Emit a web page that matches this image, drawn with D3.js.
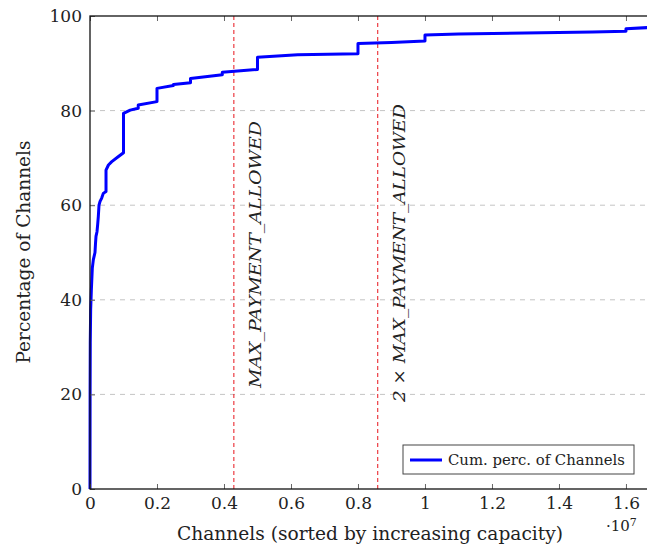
<!DOCTYPE html>
<html lang="en">
<head>
<meta charset="UTF-8">
<title>Cumulative channels</title>
<script src="https://d3js.org/d3.v7.min.js"></script>
<style>
    body { margin: 0; background: #fff; }
    svg text { font-family: "DejaVu Serif", "Liberation Serif", "Times New Roman", serif; fill: #222; }
</style>
</head>
<body>
<script>
    // capacity in sat, cumulative percentage of channels
    const capacity = [0, 3000, 8000, 20000, 40000, 69000, 100000, 149000, 165000, 179000, 209000, 230000,
        248000, 269000, 300000, 349000, 397000, 478000, 478000, 550000, 650000, 850000, 1000000, 1000000,
        1200000, 1440000, 1440000, 2000000, 2000000, 2490000, 2490000, 3000000, 3000000, 3950000, 3950000,
        5000000, 5000000, 6200000, 8000000, 8000000, 9000000, 10000000, 10000000, 11000000, 15000000,
        16000000, 16000000, 16777215];
    const percent = [0, 20, 31, 38, 42, 46.7, 48.5, 50, 52, 53.4, 54.4, 56,
        57.6, 60, 60.8, 61.5, 62.5, 62.9, 67.4, 68.5, 69.2, 70.3, 71.1, 79.4,
        80.1, 80.5, 81.2, 81.9, 84.7, 85.3, 85.5, 85.9, 86.8, 87.6, 88.1,
        88.7, 91.3, 91.8, 92.0, 94.2, 94.4, 94.7, 96.0, 96.2, 96.6,
        96.8, 97.3, 97.6];
    const xTicks = [0, 2e6, 4e6, 6e6, 8e6, 1e7, 1.2e7, 1.4e7, 1.6e7];
    const yTicks = [0, 20, 40, 60, 80, 100];
    const limits = [
        {value: 4294967, label: "MAX_PAYMENT_ALLOWED", len: 267},
        {value: 8589934, label: "2 \u00d7 MAX_PAYMENT_ALLOWED", len: 298}
    ];

    const width = 647, height = 547;
    const m = {left: 90, right: 652, top: 16, bottom: 489};
    const serif = '"DejaVu Serif", "Liberation Serif", serif';

    const x = d3.scaleLinear().domain([0, 16777215]).range([m.left, m.right]);
    const y = d3.scaleLinear().domain([0, 100]).range([m.bottom, m.top]);

    const svg = d3.select("body").append("svg")
        .attr("width", width)
        .attr("height", height);

    // horizontal grid
    svg.append("g").selectAll("line")
        .data(yTicks.filter(d => d > 0 && d < 100))
        .enter().append("line")
        .attr("x1", m.left).attr("x2", m.right)
        .attr("y1", d => y(d)).attr("y2", d => y(d))
        .attr("stroke", "#c4c4c4")
        .attr("stroke-dasharray", "5 5");

    // limit lines
    svg.append("g").selectAll("line")
        .data(limits)
        .enter().append("line")
        .attr("x1", d => x(d.value)).attr("x2", d => x(d.value))
        .attr("y1", m.top).attr("y2", m.bottom)
        .attr("stroke", "#e8141c")
        .attr("stroke-dasharray", "4 3");

    svg.append("g").selectAll("text")
        .data(limits)
        .enter().append("text")
        .attr("transform", (d, i) => `translate(${x(d.value) + 27},${i ? 402 : 388}) rotate(-90)`)
        .attr("font-family", serif)
        .attr("font-style", "italic")
        .attr("font-size", 17)
        .attr("textLength", d => d.len)
        .attr("lengthAdjust", "spacingAndGlyphs")
        .text(d => d.label);

    // curve
    const pts = capacity.map((c, i) => [c, percent[i]]);
    svg.append("path")
        .datum(pts)
        .attr("fill", "none")
        .attr("stroke", "#0000ff")
        .attr("stroke-width", 3)
        .attr("stroke-linejoin", "round")
        .attr("d", d3.line().x(d => x(d[0])).y(d => y(d[1])));

    // axes (ticks inward)
    const xAxis = svg.append("g")
        .attr("transform", `translate(0,${m.bottom})`)
        .call(d3.axisBottom(x).tickValues(xTicks).tickSize(-5).tickPadding(8)
            .tickFormat(d => d === 0 ? "0" : d3.format(".1f")(d / 1e7).replace(/\.0$/, "")));
    xAxis.select(".domain").remove();
    xAxis.selectAll("line").attr("stroke", "#666");
    xAxis.selectAll("text").attr("font-size", 17).attr("font-family", serif).attr("fill", "#222");

    const xTop = svg.append("g")
        .attr("transform", `translate(0,${m.top})`)
        .call(d3.axisTop(x).tickValues(xTicks).tickSize(-5).tickFormat(""));
    xTop.select(".domain").remove();
    xTop.selectAll("line").attr("stroke", "#666");

    const yAxis = svg.append("g")
        .attr("transform", `translate(${m.left},0)`)
        .call(d3.axisLeft(y).tickValues(yTicks).tickSize(-5).tickPadding(8));
    yAxis.select(".domain").remove();
    yAxis.selectAll("line").attr("stroke", "#666");
    yAxis.selectAll("text").attr("font-size", 17).attr("font-family", serif).attr("fill", "#222");

    // frame
    svg.append("rect")
        .attr("x", m.left).attr("y", m.top)
        .attr("width", m.right - m.left).attr("height", m.bottom - m.top)
        .attr("fill", "none")
        .attr("stroke", "#111")
        .attr("stroke-width", 1.3);

    // axis labels
    svg.append("text")
        .attr("x", 370).attr("y", 540)
        .attr("text-anchor", "middle")
        .attr("font-family", serif)
        .attr("font-size", 18)
        .attr("textLength", 386)
        .attr("lengthAdjust", "spacingAndGlyphs")
        .text("Channels (sorted by increasing capacity)");

    svg.append("text")
        .attr("transform", "translate(30,252) rotate(-90)")
        .attr("text-anchor", "middle")
        .attr("font-family", serif)
        .attr("font-size", 18)
        .attr("textLength", 223)
        .attr("lengthAdjust", "spacingAndGlyphs")
        .text("Percentage of Channels");

    const exp = svg.append("text")
        .attr("x", 606).attr("y", 531)
        .attr("font-family", serif)
        .attr("font-size", 15);
    exp.append("tspan").text("\u00b710");
    exp.append("tspan").attr("dy", -5).attr("font-size", 11).text("7");

    // legend
    const lg = svg.append("g").attr("transform", "translate(403,445)");
    lg.append("rect")
        .attr("width", 231).attr("height", 29)
        .attr("fill", "#fff")
        .attr("stroke", "#444");
    lg.append("line")
        .attr("x1", 7).attr("x2", 39).attr("y1", 15).attr("y2", 15)
        .attr("stroke", "#0000ff").attr("stroke-width", 3);
    lg.append("text")
        .attr("x", 45).attr("y", 20)
        .attr("font-family", serif)
        .attr("font-size", 14)
        .attr("textLength", 177)
        .attr("lengthAdjust", "spacingAndGlyphs")
        .text("Cum. perc. of Channels");
</script>
</body>
</html>
